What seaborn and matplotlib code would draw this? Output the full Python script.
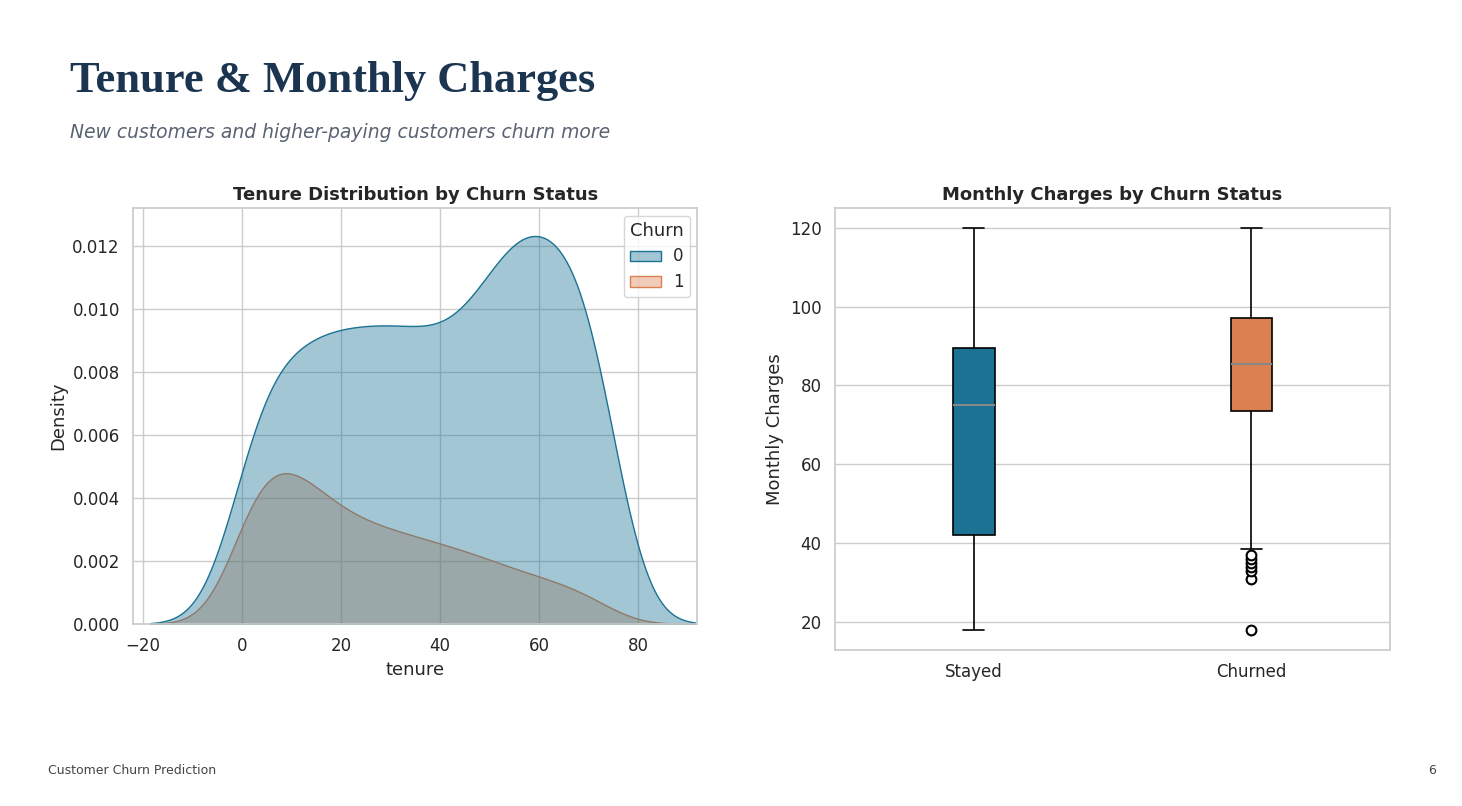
import matplotlib
matplotlib.use("Agg")
import matplotlib.pyplot as plt
import seaborn as sns
import pandas as pd

# tenure bins (months) with customer counts per churn group
tenure_points = [1, 6, 12, 18, 24, 30, 36, 42, 48, 54, 60, 66, 72]
stayed_counts = [45, 57, 66, 69, 69, 70, 69, 66, 76, 92, 96, 86, 88]
churned_counts = [28, 38, 36, 28, 24, 22, 20, 18, 16, 13, 11, 9, 6]

# monthly charges samples that reproduce the box statistics
stayed_charges = [18, 30, 42, 60, 75, 82, 89.5, 105, 120]
churned_charges = [18, 31, 33, 34, 35, 36, 37, 38.5, 55, 65,
                   73.5, 75, 76, 78, 79, 80, 81, 83, 84, 85,
                   85.5, 86, 87, 88, 89, 90, 92, 93, 95, 96,
                   97, 99, 101, 103, 105, 107, 109, 111, 114, 117, 120]
box_labels = ["Stayed", "Churned"]

BLUE = "#1b7294"
ORANGE = "#db8050"

kde_df = pd.DataFrame({
    "tenure": tenure_points * 2,
    "w": stayed_counts + churned_counts,
    "Churn": [0] * len(tenure_points) + [1] * len(tenure_points),
})
box_df = pd.DataFrame({
    "group": [box_labels[0]] * len(stayed_charges) + [box_labels[1]] * len(churned_charges),
    "Monthly Charges": stayed_charges + churned_charges,
})

sns.set_theme(style="whitegrid")
plt.rcParams["font.family"] = ["DejaVu Sans"]
fig = plt.figure(figsize=(14.62, 8.06), dpi=100)

fig.text(0.048, 0.9, "Tenure & Monthly Charges", fontsize=32, fontweight="bold",
         color="#1b3550", family="Liberation Serif", va="center")
fig.text(0.048, 0.835, "New customers and higher-paying customers churn more", fontsize=13.5,
         style="italic", color="#5a6373", va="center")
fig.text(0.033, 0.044, "Customer Churn Prediction", fontsize=9, color="#444444", va="center")
fig.text(0.982, 0.044, "6", fontsize=9, color="#444444", va="center", ha="right")

ax1 = fig.add_axes([0.091, 0.226, 0.386, 0.516])
sns.kdeplot(data=kde_df, x="tenure", weights="w", hue="Churn", fill=True, alpha=0.4,
            palette=[BLUE, ORANGE], bw_method=0.28, ax=ax1)
ax1.set_xlim(-22, 92)
ax1.set_ylim(0, 0.0132)
ax1.set_title("Tenure Distribution by Churn Status", fontsize=13, fontweight="bold")
ax1.set_xlabel("tenure", fontsize=13)
ax1.set_ylabel("Density", fontsize=13)
ax1.tick_params(labelsize=12)
leg = ax1.get_legend()
leg.set_title("Churn", prop={"size": 13})
for t in leg.get_texts():
    t.set_fontsize(12)

ax2 = fig.add_axes([0.571, 0.194, 0.380, 0.548])
sns.boxplot(data=box_df, x="group", y="Monthly Charges", hue="group", palette=[BLUE, ORANGE],
            width=0.15, saturation=1, linecolor="black", linewidth=1.2, legend=False,
            medianprops={"color": "#888888", "linewidth": 1.5},
            flierprops={"marker": "o", "markersize": 7, "markerfacecolor": "white",
                        "markeredgecolor": "black", "markeredgewidth": 1.5}, ax=ax2)
ax2.set_ylim(13, 125)
ax2.set_yticks([20, 40, 60, 80, 100, 120])
ax2.set_title("Monthly Charges by Churn Status", fontsize=13, fontweight="bold")
ax2.set_xlabel("")
ax2.set_ylabel("Monthly Charges", fontsize=13)
ax2.tick_params(labelsize=12)

fig.savefig("out.png", dpi=100, facecolor="white")
